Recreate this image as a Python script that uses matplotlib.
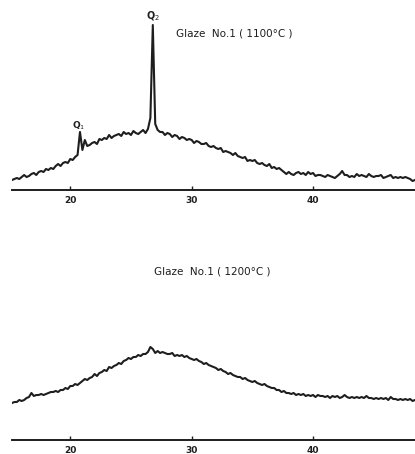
import numpy as np
import matplotlib
matplotlib.use("Agg")
import matplotlib.pyplot as plt

# 2-theta grid (deg), step 0.2
two_theta = np.round(np.arange(15.2, 48.41, 0.2), 1)

# intensity (arbitrary units), glaze fired at 1100 C
int_1100 = [
    10, 11, 12, 11, 13, 15, 13, 14, 16, 17,
    15, 18, 19, 18, 21, 20, 22, 21, 24, 26,
    24, 27, 28, 27, 31, 30, 33, 35, 58, 40,
    50, 44, 45, 47, 48, 46, 51, 50, 52, 51,
    55, 52, 54, 55, 56, 54, 58, 56, 57, 55,
    59, 57, 56, 58, 60, 57, 61, 72, 165, 66,
    60, 58, 58, 55, 57, 56, 53, 55, 54, 51,
    53, 52, 50, 51, 50, 47, 49, 48, 46, 46,
    47, 44, 43, 44, 42, 41, 42, 38, 39, 38,
    37, 35, 37, 34, 33, 32, 33, 29, 30, 29,
    30, 27, 26, 27, 25, 24, 26, 22, 23, 21,
    22, 20, 18, 16, 18, 16, 15, 17, 18, 16,
    17, 15, 18, 16, 17, 14, 15, 15, 14, 13,
    15, 14, 13, 12, 14, 16, 19, 15, 15, 13,
    14, 13, 16, 14, 15, 14, 13, 16, 14, 13,
    14, 14, 15, 12, 13, 14, 15, 12, 13, 12,
    13, 12, 13, 12, 11, 9, 10,
]

# glaze fired at 1200 C
int_1200 = [
    37, 38, 38, 40, 39, 40, 42, 43, 47, 44,
    45, 45, 46, 45, 46, 47, 48, 48, 49, 48,
    50, 50, 52, 51, 54, 54, 56, 55, 57, 59,
    61, 60, 62, 63, 66, 64, 67, 68, 70, 69,
    73, 72, 74, 75, 77, 76, 79, 80, 82, 81,
    83, 83, 85, 84, 86, 86, 88, 93, 91, 87,
    89, 87, 88, 87, 86, 86, 87, 84, 85, 84,
    85, 83, 84, 82, 81, 80, 81, 79, 78, 76,
    77, 75, 74, 73, 72, 70, 71, 69, 68, 66,
    67, 65, 64, 63, 63, 61, 62, 60, 59, 58,
    59, 57, 56, 55, 56, 54, 53, 52, 52, 50,
    50, 48, 49, 47, 47, 46, 47, 45, 46, 45,
    46, 44, 45, 44, 45, 43, 45, 44, 44, 43,
    44, 42, 44, 43, 44, 42, 43, 45, 43, 42,
    43, 42, 43, 42, 43, 42, 44, 42, 42, 41,
    42, 41, 42, 41, 42, 40, 43, 41, 41, 40,
    41, 40, 41, 40, 41, 39, 40,
]

tick_pos = [20, 30, 40]
tick_lbl = ["20", "30", "40"]

W, H = 415, 454
fig = plt.figure(figsize=(W / 100, H / 100), dpi=100)
fig.patch.set_facecolor("white")

ink = "#1e1e1e"

def panel(bottom_px, y):
    ax = fig.add_axes([12 / W, 1 - bottom_px / H, 403 / W, 180 / H])
    ax.plot(two_theta, y, color=ink, lw=1.5)
    ax.set_xlim(15.2, 48.4)
    ax.set_ylim(0, 180)
    for s in ["top", "left", "right"]:
        ax.spines[s].set_visible(False)
    ax.spines["bottom"].set_linewidth(1.4)
    ax.spines["bottom"].set_color(ink)
    ax.set_yticks([])
    ax.set_xticks(tick_pos)
    ax.set_xticklabels(tick_lbl, fontsize=6.5, fontweight="bold", color=ink)
    ax.tick_params(axis="x", direction="in", length=3, width=1, pad=4, colors=ink)
    return ax

ax1 = panel(190, int_1100)
ax1.text(28.7, 157, "Glaze  No.1 ( 1100°C )", fontsize=7.5, color=ink,
         ha="left", va="center")
ax1.text(26.8, 174, "Q$_2$", fontsize=7, color=ink, ha="center", va="center",
         fontweight="bold", clip_on=False)
ax1.text(20.7, 64, "Q$_1$", fontsize=6.5, color=ink, ha="center", va="center",
         fontweight="bold")

ax2 = panel(440, int_1200)
ax2.text(26.9, 168, "Glaze  No.1 ( 1200°C )", fontsize=7.5, color=ink,
         ha="left", va="center")

fig.savefig("out.png", dpi=100)
